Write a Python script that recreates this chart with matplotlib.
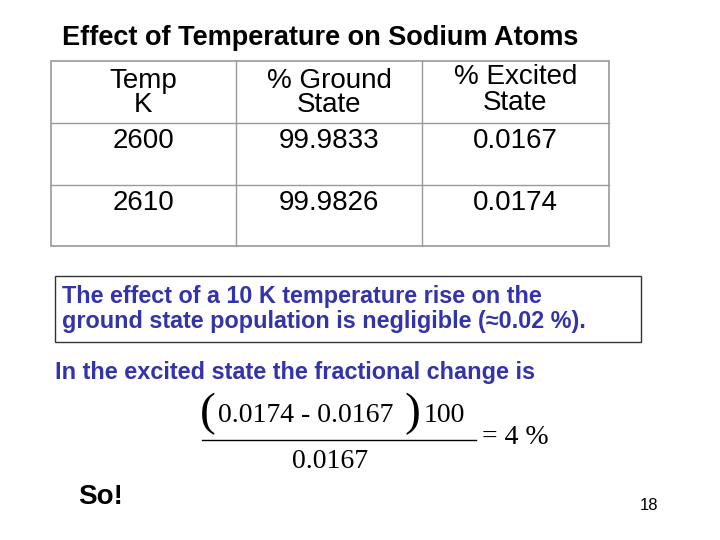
import matplotlib
matplotlib.use("Agg")
import matplotlib.pyplot as plt
from matplotlib.patches import Rectangle

headers = ["Temp\nK", "% Ground\nState", "% Excited\nState"]
temps = ["2600", "2610"]
ground = ["99.9833", "99.9826"]
excited = ["0.0167", "0.0174"]

fig = plt.figure(figsize=(7.2, 5.4), dpi=100)
ax = fig.add_axes([0, 0, 1, 1])
ax.set_xlim(0, 720); ax.set_ylim(540, 0); ax.axis("off")
F = "Liberation Sans"; S = "Liberation Serif"

ax.text(62, 38, "Effect of Temperature on Sodium Atoms", fontsize=19.5, fontweight="bold", family=F, va="center")

# table
cols = [51, 236, 422, 609]; rows = [61, 123, 185, 246]
ax.add_patch(Rectangle((51, 61), 558, 185, fill=False, ec="#999999", lw=1.2))
for x in cols[1:-1]:
    ax.plot([x, x], [61, 246], color="#999999", lw=1)
for y in rows[1:-1]:
    ax.plot([51, 609], [y, y], color="#999999", lw=1)
cx = [(cols[i] + cols[i+1]) / 2 for i in range(3)]
for i, h in enumerate(headers):
    ax.text(cx[i], 93 if i < 2 else 90, h, fontsize=20, family=F, ha="center", va="center", linespacing=0.95)
for r, row in enumerate(zip(temps, ground, excited)):
    y = 141 + r * 62
    for i, v in enumerate(row):
        ax.text(cx[i], y, v, fontsize=20, family=F, ha="center", va="center")

ax.add_patch(Rectangle((55, 276), 586, 66, fill=False, ec="#333333", lw=1))
blue = "#3333aa"
ax.text(62, 309, "The effect of a 10 K temperature rise on the\nground state population is negligible (\u22480.02 %).",
        fontsize=16.8, fontweight="bold", color=blue, family=F, va="center", linespacing=1.15)
ax.text(55, 373, "In the excited state the fractional change is", fontsize=16.9, fontweight="bold",
        color=blue, family=F, va="center")

# formula
ax.text(200, 414, "(", fontsize=34, family=S, va="center")
ax.text(218, 416, "0.0174 - 0.0167", fontsize=20, family=S, va="center")
ax.text(404, 414, ")", fontsize=34, family=S, va="center")
ax.text(424, 416, "100", fontsize=20, family=S, va="center")
ax.plot([202, 476], [440, 440], color="black", lw=1)
ax.text(292, 462, "0.0167", fontsize=20, family=S, va="center")
ax.text(482, 438, "= 4 %", fontsize=20, family=S, va="center")

ax.text(78, 497, "So!", fontsize=20, fontweight="bold", family=F, va="center")
ax.text(640, 506, "18", fontsize=12, family=F, va="center")
fig.savefig("out.png", dpi=100)
